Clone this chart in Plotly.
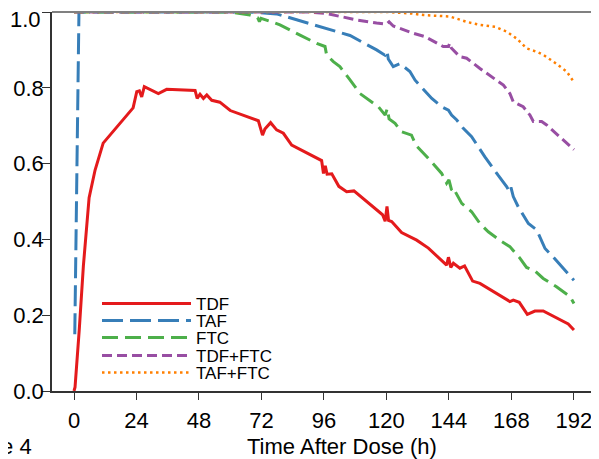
import plotly.graph_objects as go

# --- data (fraction vs. hours after dose) ---
tdf_t = [0, 0.4, 2.0, 3.6, 5.8, 8.1, 11.2, 22.7, 24.1, 25.1, 26.0, 27.0, 32.4, 35.6, 46.5,
         47.3, 48.4, 49.7, 51.0, 52.9, 56.0, 60.0, 70.8, 72.4, 73.3, 75.5, 77.8, 80.4, 83.6,
         95.1, 95.8, 96.5, 97.2, 99.0, 101.7, 104.7, 107.5, 118.5, 119.5, 120.2, 120.8, 122.0,
         125.8, 131.6, 136.1, 143.1, 143.8, 144.7, 145.7, 148.2, 150.0, 153.1, 155.9, 167.4,
         168.7, 171.0, 174.1, 177.0, 180.2, 189.8, 192.0]
tdf_v = [0, 0.01, 0.16, 0.33, 0.51, 0.583, 0.654, 0.747, 0.79, 0.792, 0.776, 0.803, 0.785, 0.796, 0.793,
         0.772, 0.783, 0.772, 0.781, 0.767, 0.762, 0.740, 0.713, 0.675, 0.691, 0.708, 0.689, 0.680, 0.649,
         0.608, 0.574, 0.594, 0.572, 0.573, 0.540, 0.526, 0.528, 0.465, 0.448, 0.487, 0.450, 0.447,
         0.418, 0.398, 0.377, 0.332, 0.353, 0.326, 0.337, 0.324, 0.330, 0.290, 0.284, 0.236,
         0.240, 0.234, 0.202, 0.211, 0.211, 0.177, 0.161]

taf_t = [0.3, 1.9, 60, 70, 77.8, 88, 99.6, 106, 116.2, 119.4, 120.2, 120.7, 122.6, 125.2, 129, 131,
         137.4, 141.2, 143.8, 145, 147, 149.5, 152.7, 157.8, 163, 166.2, 167.2, 167.8, 168.7, 170.6,
         174.5, 177.7, 180.9, 184.1, 192]
taf_v = [0.15, 1.0, 1.0, 0.999, 0.995, 0.974, 0.952, 0.938, 0.900, 0.886, 0.897, 0.876, 0.856, 0.864, 0.843, 0.820,
         0.772, 0.750, 0.741, 0.728, 0.715, 0.693, 0.671, 0.618, 0.568, 0.539, 0.526, 0.537, 0.513, 0.486,
         0.442, 0.425, 0.376, 0.353, 0.292]

ftc_t = [0, 60, 67.6, 70.5, 71.2, 71.8, 75.9, 79.1, 86.8, 93.2, 96.4, 97, 99.6, 102.1, 106, 109.8,
         116.9, 119.5, 120.3, 121, 123.3, 125.8, 129.6, 131.4, 136.7, 141.2, 143.1, 144, 145, 145.7,
         148.9, 152.7, 155.9, 159.1, 164.3, 167.4, 168.5, 171.3, 173.8, 177, 180.2, 185.3, 190.5, 192]
ftc_v = [1.0, 1.0, 0.992, 0.985, 0.975, 0.983, 0.974, 0.966, 0.939, 0.917, 0.909, 0.887, 0.869, 0.856, 0.821, 0.785,
         0.750, 0.728, 0.745, 0.718, 0.706, 0.684, 0.675, 0.648, 0.609, 0.574, 0.548, 0.557, 0.530, 0.535,
         0.495, 0.473, 0.442, 0.420, 0.394, 0.381, 0.372, 0.350, 0.326, 0.317, 0.297, 0.275, 0.249, 0.231]

tdfftc_t = [0, 90, 97, 102, 108.6, 116.2, 120, 121, 122.6, 130.3, 134.8, 141.8, 143.8, 144.3, 144.9,
            148.2, 150.8, 155.9, 164.9, 167.4, 168, 168.7, 172.5, 175.1, 176.4, 179.6, 181.5, 186.6, 192]
tdfftc_v = [1.0, 1.0, 0.996, 0.988, 0.979, 0.971, 0.968, 0.974, 0.963, 0.944, 0.935, 0.909, 0.909, 0.918, 0.905,
            0.882, 0.878, 0.851, 0.807, 0.785, 0.775, 0.763, 0.750, 0.728, 0.711, 0.711, 0.702, 0.671, 0.637]

tafftc_t = [0, 120, 129.7, 134.1, 144.4, 150.8, 155.9, 161.7, 166.2, 170, 173.8, 177.7, 180.2, 184.1, 189.2, 192]
tafftc_v = [1.0, 1.0, 0.996, 0.992, 0.988, 0.974, 0.966, 0.961, 0.948, 0.930, 0.904, 0.895, 0.887, 0.869, 0.843, 0.815]

series = [
    ("TDF", tdf_t, tdf_v, "#e41a1c", "solid", 3),
    ("TAF", taf_t, taf_v, "#377eb8", "21px,7px", 3),
    ("FTC", ftc_t, ftc_v, "#4daf4a", "16px,7px", 3),
    ("TDF+FTC", tdfftc_t, tdfftc_v, "#984ea3", "10px,5px", 3),
    ("TAF+FTC", tafftc_t, tafftc_v, "#ff7f00", "2.5px,3.5px", 2.5),
]
xticks = [0, 24, 48, 72, 96, 120, 144, 168, 192]
yticks = [0.0, 0.2, 0.4, 0.6, 0.8, 1.0]
ylabels = ["0.0", "0.2", "0.4", "0.6", "0.8", ""]  # top label is placed separately, a bit lower

FONT = "Liberation Sans, Arial, sans-serif"
OFF = 8  # page body margin that the browser adds around the plot div
W, H = 599 - OFF, 459 - OFF
ML, MR, MT, MB = 52 - OFF, 5, 12 - OFF, 68
PW, PH = W - ML - MR, H - MT - MB


def px(xw):  # window pixel -> paper x
    return (xw - 52) / PW


def py(yw):  # window pixel -> paper y
    return (391 - yw) / PH


fig = go.Figure()
legend_rows = [304, 321, 338, 356, 373]  # pixel centre of each legend row
for i, (name, t, v, col, dash, lw) in enumerate(series):
    lg = "legend" if i == 0 else f"legend{i + 1}"
    fig.add_trace(go.Scatter(x=t, y=v, mode="lines", name=name, legend=lg,
                             line=dict(color=col, width=lw, dash=dash)))
    fig.layout[lg] = dict(
        x=px(97), y=py(legend_rows[i]),
        xanchor="left", yanchor="middle",
        bgcolor="rgba(0,0,0,0)", borderwidth=0,
        font=dict(family=FONT, size=17, color="black"),
        itemwidth=89,
    )

fig.update_layout(
    width=W, height=H,
    margin=dict(l=ML, r=MR, t=MT, b=MB, autoexpand=False),
    paper_bgcolor="white", plot_bgcolor="white",
    font=dict(family=FONT, size=22, color="black"),
    showlegend=True,
)
fig.update_xaxes(range=[-8.45, 199.7], tickvals=xticks, ticks="outside", ticklen=7,
                 tickcolor="#333", showline=True, linecolor="#333", linewidth=1.5,
                 showgrid=False, zeroline=False, tickfont=dict(size=22),
                 automargin=False, ticklabeloverflow="allow", ticklabelstandoff=2)
fig.update_yaxes(range=[0, 1.0], tickvals=yticks, ticktext=ylabels, ticks="outside", ticklen=8,
                 tickcolor="#333", showline=True, linecolor="#333", linewidth=1.5,
                 showgrid=False, zeroline=False, tickfont=dict(size=22),
                 automargin=False, ticklabeloverflow="allow", ticklabelstandoff=-6)

# grey frame on the top and right
fig.add_shape(type="line", xref="paper", yref="paper", x0=0, x1=1, y0=1, y1=1,
              line=dict(color="#808080", width=2))
fig.add_shape(type="line", xref="paper", yref="paper", x0=1, x1=1, y0=0, y1=1,
              line=dict(color="#808080", width=2))

fig.add_annotation(text="1.0", xref="paper", yref="paper",
                   x=px(43), y=py(19), xanchor="right", yanchor="middle",
                   showarrow=False, font=dict(size=22))
fig.add_annotation(text="Time After Dose (h)", xref="paper", yref="paper",
                   x=px(342), y=py(446), xanchor="center", yanchor="middle",
                   showarrow=False, font=dict(size=22))
fig.add_annotation(text="Figure 4", xref="paper", yref="paper",
                   x=px(34), y=py(446), xanchor="right", yanchor="middle",
                   showarrow=False, font=dict(size=22))

fig.write_html("out.html")
